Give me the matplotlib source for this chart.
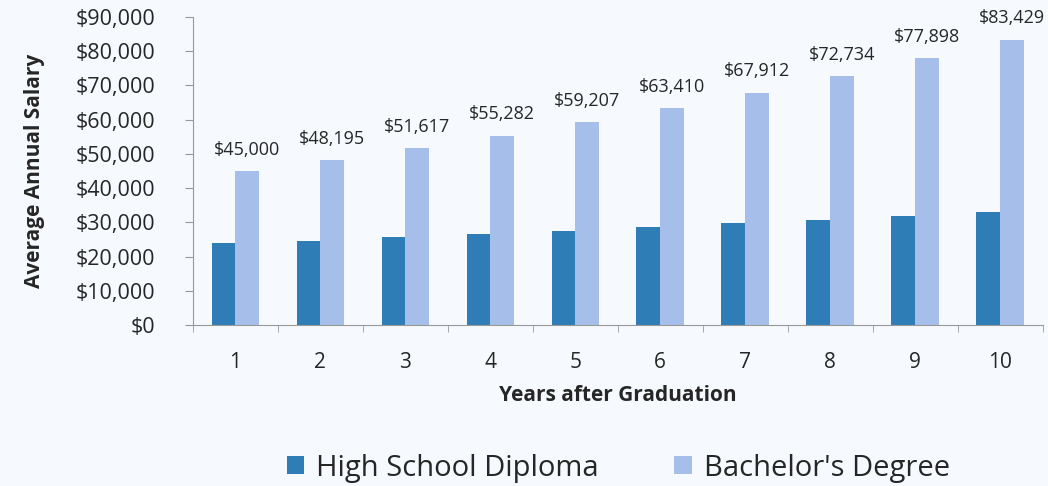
import matplotlib
matplotlib.use("Agg")
import matplotlib.pyplot as plt
import numpy as np
from matplotlib.ticker import FuncFormatter

years = ["1", "2", "3", "4", "5", "6", "7", "8", "9", "10"]
high_school = [23900, 24500, 25600, 26500, 27500, 28700, 29700, 30700, 31900, 33100]
bachelor = [45000, 48195, 51617, 55282, 59207, 63410, 67912, 72734, 77898, 83429]
series_names = ["High School Diploma", "Bachelor's Degree"]
y_ticks = [0, 10000, 20000, 30000, 40000, 50000, 60000, 70000, 80000, 90000]

plt.rcParams['font.family'] = ['Open Sans', 'DejaVu Sans']
bg = "#f6f9fd"
c_hs = "#2f7db6"
c_ba = "#a6bfea"
txt = "#262626"

fig = plt.figure(figsize=(10.48, 4.86), dpi=100, facecolor=bg)
ax = fig.add_axes([0.184, 0.331, 0.811, 0.634], facecolor=bg)

x = np.arange(len(years))
w = 0.28
ax.bar(x - w/2, high_school, width=w, color=c_hs, label=series_names[0])
ax.bar(x + w/2, bachelor, width=w, color=c_ba, label=series_names[1])

for xi, v in zip(x, bachelor):
    ax.annotate(f"${v:,.0f}", (xi + w/2, v), xytext=(0, 9), textcoords="offset points",
                ha="center", va="bottom", fontsize=13, color=txt, annotation_clip=False)

ax.set_xlim(-0.5, len(years) - 0.5)
ax.set_ylim(0, 90000)
ax.set_yticks(y_ticks)
ax.yaxis.set_major_formatter(FuncFormatter(lambda v, p: f"${v:,.0f}"))
ax.set_xticks(x)
ax.set_xticklabels(years)
ax.set_xticks(np.arange(len(years) + 1) - 0.5, minor=True)
ax.tick_params(axis="x", which="major", length=0, labelsize=15, pad=19, colors=txt)
ax.tick_params(axis="x", which="minor", length=5, color="#999999")
ax.tick_params(axis="y", length=6, color="#999999", labelsize=15.5, pad=21, labelcolor=txt)

for s in ["top", "right"]:
    ax.spines[s].set_visible(False)
for s in ["left", "bottom"]:
    ax.spines[s].set_color("#999999")

ax.set_xlabel("Years after Graduation", fontsize=15, fontweight="bold", labelpad=9, color=txt)
ax.set_ylabel("Average Annual Salary", fontsize=15, fontweight="bold", labelpad=22, color=txt)

fig.legend(loc="center", bbox_to_anchor=(0.59, 0.037), ncol=2, frameon=False, fontsize=21,
           handlelength=0.6, handleheight=0.6, handletextpad=0.4, columnspacing=2.6,
           labelcolor=txt)

fig.savefig("out.png", dpi=100, facecolor=bg)
